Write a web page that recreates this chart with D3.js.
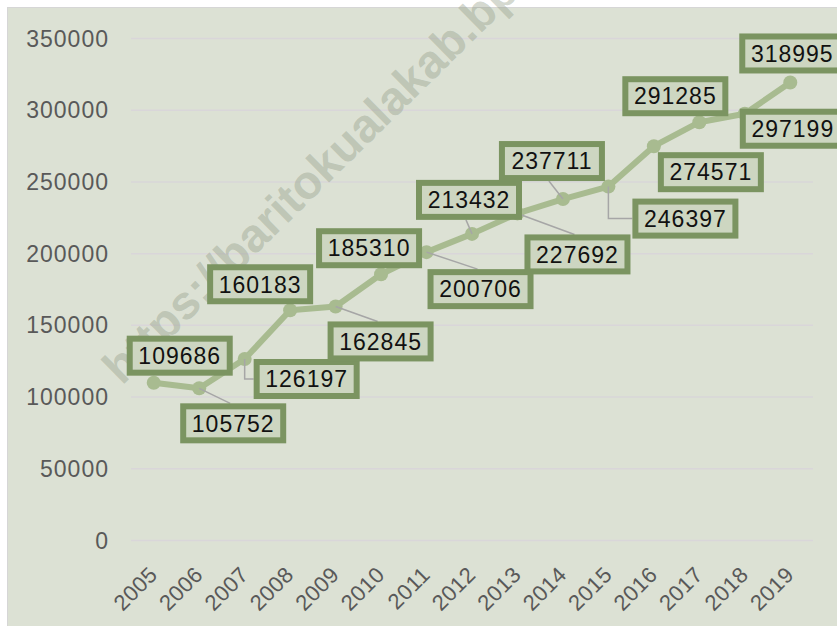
<!DOCTYPE html>
<html>
<head>
<meta charset="utf-8">
<script src="https://cdn.jsdelivr.net/npm/d3@7"></script>
<style>
  html, body { margin: 0; padding: 0; background: #ffffff; }
  svg { display: block; }
  text { font-family: "Liberation Sans", Arial, sans-serif; }
</style>
</head>
<body>
<svg id="chart" width="837" height="626"></svg>
<script>
// Yearly series
const years = ["2005","2006","2007","2008","2009","2010","2011","2012","2013","2014","2015","2016","2017","2018","2019"];
const values = [109686, 105752, 126197, 160183, 162845, 185310, 200706, 213432, 227692, 237711, 246397, 274571, 291285, 297199, 318995];
const yTicks = [0, 50000, 100000, 150000, 200000, 250000, 300000, 350000];

// Data-label placement (box centre offset from its point, px) and leader-line flags
const labelDx = [26, 34, 62, -30, 45, -12, 54, -3, 60, -11, 77, 57, -24, 48, 2];
const labelDy = [-27, 35, 20, -26, 35, -26, 37, -34, 41, -38, 32, 26, -26, 15, -29];
const hasLeader = [0, 1, 1, 0, 1, 0, 1, 1, 1, 1, 1, 0, 0, 0, 0];

const W = 837, H = 626;
const plot = { left: 131, right: 813, top: 38, bottom: 540 };

const svg = d3.select("#chart");

// chart area
svg.append("rect")
  .attr("x", 7.5).attr("y", 7.5)
  .attr("width", W).attr("height", H)
  .attr("fill", "#dce1d4")
  .attr("stroke", "#d6d6d6")
  .attr("stroke-width", 1);

const x = d3.scaleBand().domain(years).range([plot.left, plot.right]);
const cx = d => x(d) + x.bandwidth() / 2;
const y = d3.scaleLinear().domain([0, 350000]).range([plot.bottom, plot.top]);

// horizontal gridlines + value labels
const yAxis = d3.axisLeft(y).tickValues(yTicks).tickSize(-(plot.right - plot.left)).tickFormat(d3.format("d"));
const gy = svg.append("g").attr("transform", `translate(${plot.left},0)`).call(yAxis);
gy.select(".domain").remove();
gy.selectAll(".tick line").attr("stroke", "#d9d6d9").attr("stroke-width", 1.5);
gy.selectAll(".tick text")
  .attr("x", -22)
  .attr("dy", "0.35em")
  .attr("fill", "#595959")
  .style("font-size", "23px")
  .style("letter-spacing", "1px")
  .style("font-family", "'Liberation Sans', Arial, sans-serif");

// category axis labels (rotated)
const xAxis = d3.axisBottom(x).tickSize(0);
const gx = svg.append("g").attr("transform", `translate(0,${plot.bottom})`).call(xAxis);
gx.select(".domain").remove();
gx.selectAll(".tick text")
  .attr("text-anchor", "end")
  .attr("x", 0).attr("y", 0).attr("dy", 0)
  .attr("transform", "translate(5,36) rotate(-45)")
  .attr("fill", "#595959")
  .style("font-size", "22px")
  .style("letter-spacing", "0.5px")
  .style("font-family", "'Liberation Sans', Arial, sans-serif");

// site watermark
svg.append("text")
  .attr("transform", "translate(122,386) rotate(-44.5)")
  .attr("fill", "#8f9a84")
  .attr("fill-opacity", 0.4)
  .style("font-size", "47px")
  .style("font-weight", "bold")
  .text("https://baritokualakab.bps.go.id");

// series line and markers
const line = d3.line().x((d, i) => cx(years[i])).y(d => y(d));
svg.append("path")
  .datum(values)
  .attr("d", line)
  .attr("fill", "none")
  .attr("stroke", "#a8bb90")
  .attr("stroke-width", 6)
  .attr("stroke-linejoin", "round");

svg.append("g").selectAll("circle")
  .data(values)
  .join("circle")
  .attr("cx", (d, i) => cx(years[i]))
  .attr("cy", d => y(d))
  .attr("r", 7)
  .attr("fill", "#a8bb90");

// data labels
const boxW = 106, boxH = 40, bw = 6;
const labels = values.map((v, i) => {
  const px = cx(years[i]), py = y(v);
  const bx = px + labelDx[i], by = py + labelDy[i];
  return { v, i, px, py, bx, by, L: bx - boxW / 2, R: bx + boxW / 2, T: by - boxH / 2, B: by + boxH / 2 };
});

const leaderPath = d => {
  const dx = d.bx - d.px, dy = d.by - d.py;
  if (Math.abs(dy) < 0.5 * Math.abs(dx)) {
    const side = dx > 0 ? d.L : d.R;
    return `M${d.px},${d.py}V${d.by}H${side}`;
  }
  return `M${d.px},${d.py}L${d.bx - 3},${dy > 0 ? d.T : d.B}`;
};

svg.append("g").selectAll("path")
  .data(labels.filter(d => hasLeader[d.i]))
  .join("path")
  .attr("d", leaderPath)
  .attr("fill", "none")
  .attr("stroke", "#a6a6a6")
  .attr("stroke-width", 1.5);

const lg = svg.append("g").selectAll("g")
  .data(labels)
  .join("g");

lg.append("rect")
  .attr("x", d => d.L + bw / 2)
  .attr("y", d => d.T + bw / 2)
  .attr("width", boxW - bw)
  .attr("height", boxH - bw)
  .attr("fill", "#cdd6c1")
  .attr("stroke", "#7b9461")
  .attr("stroke-width", bw);

lg.append("text")
  .attr("x", d => d.bx)
  .attr("y", d => d.by)
  .attr("dy", "0.36em")
  .attr("text-anchor", "middle")
  .attr("fill", "#111111")
  .style("font-size", "23px")
  .style("letter-spacing", "1px")
  .text(d => d.v);
</script>
</body>
</html>
